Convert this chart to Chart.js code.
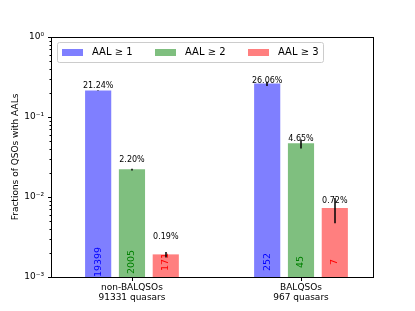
<!DOCTYPE html>
<html><head><meta charset="utf-8">
<script src="https://cdn.jsdelivr.net/npm/chart.js@4.4.0/dist/chart.umd.min.js"></script>
<style>html,body{margin:0;padding:0;background:#fff}canvas{display:block}</style>
</head><body>
<canvas id="c" width="415" height="311"></canvas>
<script>
// ---- data ----
const groups = [['non-BALQSOs', '91331 quasars'], ['BALQSOs', '967 quasars']];
const seriesNames = ['AAL \u2265 1', 'AAL \u2265 2', 'AAL \u2265 3'];
const fracAAL1 = [0.2124, 0.2606];
const fracAAL2 = [0.0220, 0.0465];
const fracAAL3 = [0.0019, 0.0072];
const errAAL1 = [0.0015, 0.0160];
const errAAL2 = [0.0005, 0.0060];
const errAAL3 = [0.00015, 0.0025];
const countAAL1 = [19399, 252];
const countAAL2 = [2005, 45];
const countAAL3 = [171, 7];
const pctLabelY1 = [0.244, 0.282];
const pctLabelY2 = [0.029, 0.0531];
const pctLabelY3 = [0.00316, 0.0089];
const yTickValues = [1e-3, 1e-2, 1e-1, 1];
const yTickLabels = ['10\u207B\u00B3', '10\u207B\u00B2', '10\u207B\u00B9', '10\u2070'];

// ---- styling / layout ----
const FONT = "'DejaVu Sans', sans-serif";
const fills = ['rgba(0,0,255,0.5)', 'rgba(0,128,0,0.5)', 'rgba(255,0,0,0.5)'];
const textCols = ['#0000ff', '#008000', '#ff0000'];
const seriesOffset = [-0.2, 0, 0.2];
const countLabelY = 0.00154;

const fracs = [fracAAL1, fracAAL2, fracAAL3];
const errs = [errAAL1, errAAL2, errAAL3];
const counts = [countAAL1, countAAL2, countAAL3];
const pctY = [pctLabelY1, pctLabelY2, pctLabelY3];

const datasets = seriesNames.map((name, s) => ({
  label: name,
  data: groups.map((g, i) => ({ x: i + seriesOffset[s], y: fracs[s][i] })),
  backgroundColor: fills[s],
  borderWidth: 0,
  barThickness: 25.5,
  grouped: false
}));

const overlay = {
  id: 'overlay',
  afterDatasetsDraw(chart) {
    const ctx = chart.ctx, xs = chart.scales.x, ys = chart.scales.y, a = chart.chartArea;
    ctx.save();
    // count labels (rotated)
    ctx.font = '9.5px ' + FONT;
    ctx.textAlign = 'center';
    ctx.textBaseline = 'middle';
    seriesNames.forEach((n, s) => {
      groups.forEach((g, i) => {
        const x = xs.getPixelForValue(i + seriesOffset[s]);
        const y = ys.getPixelForValue(countLabelY);
        ctx.save();
        ctx.translate(x, y);
        ctx.rotate(-Math.PI / 2);
        ctx.fillStyle = textCols[s];
        ctx.fillText(String(counts[s][i]), 0, 0);
        ctx.restore();
      });
    });
    // percentage labels
    ctx.font = '8px ' + FONT;
    ctx.fillStyle = '#000';
    seriesNames.forEach((n, s) => {
      groups.forEach((g, i) => {
        const x = xs.getPixelForValue(i + seriesOffset[s]);
        const y = ys.getPixelForValue(pctY[s][i]);
        ctx.fillText((fracs[s][i] * 100).toFixed(2) + '%', x, y);
      });
    });
    // error bars
    ctx.strokeStyle = '#000';
    ctx.lineWidth = 1.5;
    seriesNames.forEach((n, s) => {
      groups.forEach((g, i) => {
        const x = Math.round(xs.getPixelForValue(i + seriesOffset[s]));
        const y1 = ys.getPixelForValue(fracs[s][i] + errs[s][i]);
        const y2 = ys.getPixelForValue(fracs[s][i] - errs[s][i]);
        ctx.beginPath(); ctx.moveTo(x, y1); ctx.lineTo(x, y2); ctx.stroke();
      });
    });
    ctx.restore();
  },
  afterDraw(chart) {
    const ctx = chart.ctx, xs = chart.scales.x, ys = chart.scales.y, a = chart.chartArea;
    ctx.save();
    // frame
    ctx.strokeStyle = '#000';
    ctx.lineWidth = 1;
    ctx.strokeRect(Math.round(a.left) + 0.5, Math.round(a.top) + 0.5, Math.round(a.right - a.left), Math.round(a.bottom - a.top));
    // y ticks (major + minor)
    const L = Math.round(a.left) + 0.5;
    for (let d = -3; d <= 0; d++) {
      for (let m = 1; m <= 9; m++) {
        const v = m * Math.pow(10, d);
        if (v > 1.0000001) break;
        const y = Math.round(ys.getPixelForValue(v)) + 0.5;
        const len = m === 1 ? 3.5 : 2;
        ctx.beginPath(); ctx.moveTo(L - len, y); ctx.lineTo(L, y); ctx.stroke();
      }
    }
    // x ticks
    const B = Math.round(a.bottom) + 0.5;
    groups.forEach((g, i) => {
      const x = Math.round(xs.getPixelForValue(i)) + 0.5;
      ctx.beginPath(); ctx.moveTo(x, B); ctx.lineTo(x, B + 3.5); ctx.stroke();
    });
    // legend
    const lx = a.left + 6, ly = a.top + 5, lw = 266, lh = 20;
    ctx.fillStyle = 'rgba(255,255,255,0.8)';
    ctx.strokeStyle = '#cccccc';
    ctx.lineWidth = 1;
    ctx.beginPath();
    if (ctx.roundRect) ctx.roundRect(lx + 0.5, ly + 0.5, lw, lh, 2); else ctx.rect(lx + 0.5, ly + 0.5, lw, lh);
    ctx.fill(); ctx.stroke();
    ctx.font = '10px ' + FONT;
    ctx.textAlign = 'left';
    ctx.textBaseline = 'middle';
    chart.data.datasets.forEach((ds, s) => {
      const px = lx + 5 + s * 93;
      const cy = ly + 10.5;
      ctx.fillStyle = ds.backgroundColor;
      ctx.fillRect(px, cy - 3.5, 21, 7);
      ctx.fillStyle = '#000';
      ctx.fillText(ds.label, px + 30, cy);
    });
    ctx.restore();
  }
};

new Chart(document.getElementById('c'), {
  type: 'bar',
  data: { datasets },
  options: {
    responsive: false,
    animation: false,
    devicePixelRatio: 1,
    layout: { padding: { top: 37, right: 42, left: 0, bottom: 0 } },
    plugins: { legend: { display: false }, tooltip: { enabled: false } },
    scales: {
      x: {
        type: 'linear',
        min: -0.479, max: 1.426,
        offset: false,
        grid: { display: false, drawTicks: false, offset: false },
        border: { display: false },
        afterBuildTicks: (scale) => { scale.ticks = groups.map((g, i) => ({ value: i })); },
        afterFit: (scale) => { scale.height = 34; },
        ticks: {
          autoSkip: false, maxRotation: 0, padding: 5,
          color: '#000',
          font: { family: FONT, size: 9, lineHeight: 1.15 },
          callback: (v) => groups[Math.round(v)]
        }
      },
      y: {
        type: 'logarithmic',
        min: 1e-3, max: 1,
        grid: { display: false, drawTicks: false },
        border: { display: false },
        afterBuildTicks: (scale) => { scale.ticks = yTickValues.map(v => ({ value: v, major: true })); },
        afterFit: (scale) => { scale.width = 51; },
        ticks: {
          padding: 7, color: '#000',
          font: { family: FONT, size: 9 },
          callback: (v, i) => yTickLabels[i]
        },
        title: {
          display: true, text: 'Fractions of QSOs with AALs', color: '#000',
          font: { family: FONT, size: 9 }, padding: { top: 10, bottom: 0 }
        }
      }
    }
  },
  plugins: [overlay]
});
</script>
</body></html>
